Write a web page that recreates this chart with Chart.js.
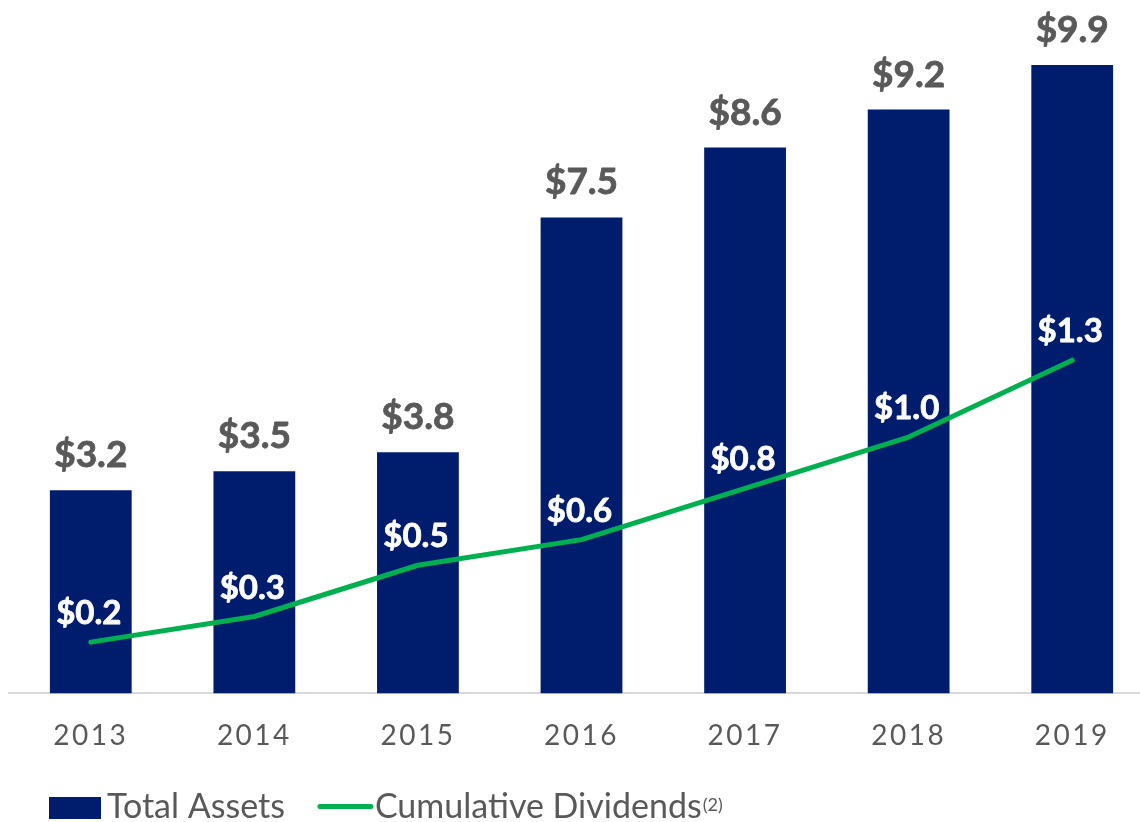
<!DOCTYPE html>
<html>
<head>
<meta charset="utf-8">
<title>Total Assets and Cumulative Dividends</title>
<script src="https://cdn.jsdelivr.net/npm/chart.js@4.4.1/dist/chart.umd.min.js"></script>
<style>
  html, body { margin: 0; padding: 0; background: #ffffff; overflow: hidden; }
  #wrap { width: 1140px; height: 822px; overflow: hidden; position: relative; }
  canvas { display: block; }
</style>
</head>
<body>
<div id="wrap"><canvas id="chart" width="1160" height="822"></canvas></div>
<script>
// Fiscal years on the category axis
const years = ['2013', '2014', '2015', '2016', '2017', '2018', '2019'];
// Total assets, $ billions (bars)
const totalAssets = [3.2, 3.5, 3.8, 7.5, 8.6, 9.2, 9.9];
// Cumulative dividends, $ billions (line, secondary axis)
const cumulativeDividends = [0.2, 0.3, 0.5, 0.6, 0.8, 1.0, 1.3];
// Legend entries
const legendLabels = ['Total Assets', 'Cumulative Dividends'];
const legendNote = '(2)';

const NAVY = '#001c6c';
const GREEN = '#00b050';
const GREY = '#595959';
const FONT = 'Lato, "Open Sans", sans-serif';

Chart.defaults.font.family = FONT;

const money = v => '$' + v.toFixed(1);

// Spaced-out year labels on the category axis
const tickSpacing = {
  id: 'tickSpacing',
  beforeDraw(chart) { chart.ctx.letterSpacing = '2.5px'; },
  beforeDatasetsDraw(chart) { chart.ctx.letterSpacing = '0px'; }
};

// Heavy label text: fill plus a thin outline in the same colour
function heavyText(ctx, text, x, y, color) {
  ctx.fillStyle = color;
  ctx.strokeStyle = color;
  ctx.lineWidth = 0.8;
  ctx.lineJoin = 'round';
  ctx.fillText(text, x, y);
  ctx.strokeText(text, x, y);
}

// Value labels above bars and line points
const valueLabels = {
  id: 'valueLabels',
  afterDatasetsDraw(chart) {
    const ctx = chart.ctx;
    ctx.save();
    ctx.textAlign = 'center';
    ctx.textBaseline = 'alphabetic';

    const barMeta = chart.getDatasetMeta(0);
    ctx.font = 'bold 37px ' + FONT;
    barMeta.data.forEach((el, i) => {
      heavyText(ctx, money(chart.data.datasets[0].data[i]), el.x, el.y - 23, GREY);
    });

    const lineMeta = chart.getDatasetMeta(1);
    ctx.font = 'bold 33px ' + FONT;
    lineMeta.data.forEach((el, i) => {
      heavyText(ctx, money(chart.data.datasets[1].data[i]), el.x - 2, el.y - 18, '#ffffff');
    });
    ctx.restore();
  }
};

// Legend row along the bottom edge
const bottomLegend = {
  id: 'bottomLegend',
  afterDraw(chart) {
    const ctx = chart.ctx;
    const ds = chart.data.datasets;
    const baseY = 818;
    let x = 49;
    ctx.save();
    ctx.textAlign = 'left';
    ctx.textBaseline = 'alphabetic';
    ctx.font = '34px ' + FONT;

    // bar swatch
    ctx.fillStyle = ds[0].backgroundColor;
    ctx.fillRect(x, 797, 52, 22);
    x += 52 + 6;
    ctx.fillStyle = GREY;
    ctx.fillText(ds[0].label, x, baseY);
    x += ctx.measureText(ds[0].label).width + 33;

    // line swatch
    ctx.strokeStyle = ds[1].borderColor;
    ctx.lineWidth = 5;
    ctx.lineCap = 'round';
    ctx.beginPath();
    ctx.moveTo(x + 2, 806.5);
    ctx.lineTo(x + 53, 806.5);
    ctx.stroke();
    x += 57;
    ctx.fillStyle = GREY;
    ctx.fillText(ds[1].label, x, baseY);
    x += ctx.measureText(ds[1].label).width + 1;
    ctx.font = '18px ' + FONT;
    ctx.fillText(legendNote, x, 811);
    ctx.restore();
  }
};

new Chart(document.getElementById('chart'), {
  type: 'bar',
  data: {
    labels: years,
    datasets: [
      {
        type: 'bar',
        label: legendLabels[0],
        data: totalAssets,
        backgroundColor: NAVY,
        borderWidth: 0,
        barPercentage: 1,
        categoryPercentage: 0.5,
        yAxisID: 'y',
        order: 2
      },
      {
        type: 'line',
        label: legendLabels[1],
        data: cumulativeDividends,
        borderColor: GREEN,
        backgroundColor: GREEN,
        borderWidth: 5,
        borderCapStyle: 'round',
        borderJoinStyle: 'round',
        pointRadius: 0,
        tension: 0,
        fill: false,
        yAxisID: 'y1',
        order: 1
      }
    ]
  },
  options: {
    responsive: false,
    animation: false,
    events: [],
    layout: { padding: { left: 9, right: 6, top: 27, bottom: 43 } },
    plugins: {
      legend: { display: false },
      tooltip: { enabled: false }
    },
    scales: {
      x: {
        offset: true,
        grid: { display: false, drawTicks: false },
        border: { display: true, color: '#d9d9d9', width: 2 },
        ticks: {
          color: GREY,
          font: { size: 28 },
          padding: 26,
          maxRotation: 0,
          autoSkip: false
        }
      },
      y: {
        display: false,
        min: 0,
        max: 10.5
      },
      y1: {
        display: false,
        position: 'right',
        min: 0,
        max: 2.6
      }
    }
  },
  plugins: [tickSpacing, valueLabels, bottomLegend]
});
</script>
</body>
</html>
